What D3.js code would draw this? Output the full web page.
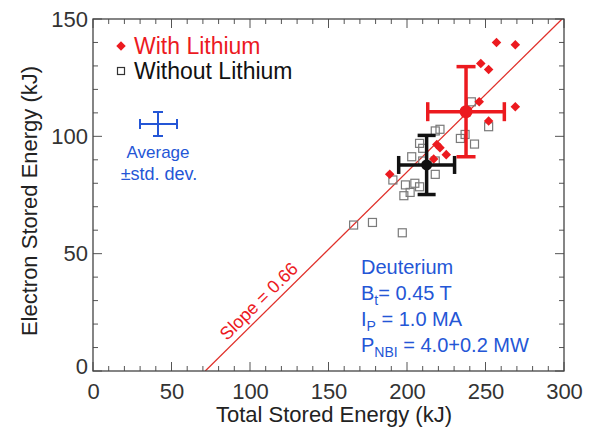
<!DOCTYPE html>
<html>
<head>
<meta charset="utf-8">
<script src="https://cdn.jsdelivr.net/npm/d3@7"></script>
<style>
  body { margin: 0; background: #fff; }
  svg { display: block; font-family: "Liberation Sans", Arial, Helvetica, sans-serif; }
</style>
</head>
<body>
<svg id="chart" width="592" height="428"></svg>
<script>
// Shots with lithium wall conditioning: [total, electron] stored energy (kJ)
const withLiTotal = [257, 269, 247, 252, 246, 269, 252, 219, 221, 225, 217, 189];
const withLiElectron = [140, 139, 131, 128.5, 114.7, 112.6, 106.5, 96.5, 95.1, 92.2, 90.3, 83.8];

// Shots without lithium
const noLiTotal = [221, 218, 241, 252, 234, 237, 243, 208, 210, 203, 210, 218, 218,
                   191, 199, 205, 208, 202, 198, 166, 178, 197];
const noLiElectron = [103, 102.3, 114.7, 104.1, 99.1, 100.8, 96.7, 97, 94.9, 91.3, 89.5, 89.5, 83.8,
                      81.4, 79.3, 80, 78.5, 76.1, 74.7, 62.2, 63.3, 58.9];

// Group averages with standard deviations
const groupNames = ["withLi", "noLi"];
const meanTotal = [237.6, 212.5];
const meanElectron = [110.5, 87.8];
const sdTotal = [24.4, 17.8];
const sdElectron = [19.2, 12.6];

// Linear fit line: electron = slope * (total - offset)
const fitSlope = 0.66;
const fitOffset = 71.5;

const xTicks = [0, 50, 100, 150, 200, 250, 300];
const yTicks = [0, 50, 100, 150];

const RED = "#ec1a1f";
const BLUE = "#2456d6";
const GRAY = "#7a7a7a";

const svg = d3.select("#chart");
const margin = { left: 93, right: 28, top: 19, bottom: 57 };
const W = 592, H = 428;
const x = d3.scaleLinear().domain([0, 300]).range([margin.left, W - margin.right]);
const y = d3.scaleLinear().domain([0, 150]).range([H - margin.bottom, margin.top]);

const plot = svg.append("g");
plot.append("clipPath").attr("id", "clip")
  .append("rect").attr("x", x(0)).attr("y", y(150))
  .attr("width", x(300) - x(0)).attr("height", y(0) - y(150));

// Frame with inward ticks on all four sides
const minor = d3.range(0, 301, 10);
const minorY = d3.range(0, 151, 10);
function tickAxes() {
  const g = svg.append("g").attr("stroke", "#555").attr("stroke-width", 1);
  minor.forEach(v => {
    const len = v % 50 === 0 ? 9 : 5;
    g.append("line").attr("x1", x(v)).attr("x2", x(v)).attr("y1", y(0)).attr("y2", y(0) - len);
    g.append("line").attr("x1", x(v)).attr("x2", x(v)).attr("y1", y(150)).attr("y2", y(150) + len);
  });
  minorY.forEach(v => {
    const len = v % 50 === 0 ? 9 : 5;
    g.append("line").attr("x1", x(0)).attr("x2", x(0) + len).attr("y1", y(v)).attr("y2", y(v));
    g.append("line").attr("x1", x(300)).attr("x2", x(300) - len).attr("y1", y(v)).attr("y2", y(v));
  });
  g.append("rect").attr("x", x(0)).attr("y", y(150))
    .attr("width", x(300) - x(0)).attr("height", y(0) - y(150))
    .attr("fill", "none").attr("stroke", "#444").attr("stroke-width", 1.3);
}

// Tick labels through d3 axes (tick lines hidden, frame drawn separately)
const xAxis = svg.append("g").attr("transform", `translate(0,${y(0)})`)
  .call(d3.axisBottom(x).tickValues(xTicks).tickSize(0).tickPadding(9));
const yAxis = svg.append("g").attr("transform", `translate(${x(0)},0)`)
  .call(d3.axisLeft(y).tickValues(yTicks).tickSize(0).tickPadding(5));
[xAxis, yAxis].forEach(a => {
  a.select(".domain").remove();
  a.selectAll("text").attr("font-size", 22).attr("fill", "#333")
    .attr("font-family", "Liberation Sans, Arial, sans-serif");
});
xAxis.selectAll("text").attr("dy", "0.85em");
yAxis.selectAll("text").filter(d => d === 0).attr("dy", "0.1em");

// Fit line
plot.append("line")
  .attr("clip-path", "url(#clip)")
  .attr("x1", x(fitOffset)).attr("y1", y(0))
  .attr("x2", x(fitOffset + 150 / fitSlope)).attr("y2", y(150))
  .attr("stroke", "#e0302a").attr("stroke-width", 1.3);

// Slope label rotated along the fit line
const angle = Math.atan2(y(fitSlope * 60) - y(0), x(60) - x(0)) * 180 / Math.PI;
const lx = 111, ly = fitSlope * (lx - fitOffset);
svg.append("text")
  .attr("transform", `translate(${x(lx)},${y(ly)}) rotate(${angle})`)
  .attr("text-anchor", "middle").attr("dy", -6)
  .attr("font-size", 18).attr("fill", RED)
  .text("Slope = 0.66");

// Open squares: without lithium
const sq = 8;
plot.append("g").selectAll("rect").data(d3.zip(noLiTotal, noLiElectron)).join("rect")
  .attr("x", d => x(d[0]) - sq / 2).attr("y", d => y(d[1]) - sq / 2)
  .attr("width", sq).attr("height", sq)
  .attr("fill", "none").attr("stroke", GRAY).attr("stroke-width", 1.2);

// Filled diamonds: with lithium
const diamond = d3.symbol().type(d3.symbolDiamond2).size(58);
plot.append("g").selectAll("path").data(d3.zip(withLiTotal, withLiElectron)).join("path")
  .attr("d", diamond)
  .attr("transform", d => `translate(${x(d[0])},${y(d[1])})`)
  .attr("fill", RED);

// Average ± standard deviation crosses
function errorCross(cx, cy, sx, sy, color, width, cap, r) {
  const g = svg.append("g").attr("stroke", color).attr("stroke-width", width).attr("fill", color);
  g.append("line").attr("x1", x(cx - sx)).attr("x2", x(cx + sx)).attr("y1", y(cy)).attr("y2", y(cy));
  g.append("line").attr("x1", x(cx)).attr("x2", x(cx)).attr("y1", y(cy - sy)).attr("y2", y(cy + sy));
  [cx - sx, cx + sx].forEach(v => g.append("line")
    .attr("x1", x(v)).attr("x2", x(v)).attr("y1", y(cy) - cap).attr("y2", y(cy) + cap));
  [cy - sy, cy + sy].forEach(v => g.append("line")
    .attr("x1", x(cx) - cap).attr("x2", x(cx) + cap).attr("y1", y(v)).attr("y2", y(v)));
  if (r > 0) g.append("circle").attr("cx", x(cx)).attr("cy", y(cy)).attr("r", r).attr("stroke", "none");
}
errorCross(meanTotal[1], meanElectron[1], sdTotal[1], sdElectron[1], "#111", 3.5, 9, 5.5);
errorCross(meanTotal[0], meanElectron[0], sdTotal[0], sdElectron[0], RED, 3.5, 9.5, 6.5);

tickAxes();

// Legend
svg.append("path").attr("d", diamond).attr("transform", "translate(121,46)").attr("fill", RED);
svg.append("rect").attr("x", 117.5).attr("y", 67.5).attr("width", 7).attr("height", 7)
  .attr("fill", "none").attr("stroke", "#333").attr("stroke-width", 1.2);
svg.append("text").attr("x", 134).attr("y", 54).attr("font-size", 23).attr("fill", RED).text("With Lithium");
svg.append("text").attr("x", 134).attr("y", 79).attr("font-size", 23).attr("fill", "#111").text("Without Lithium");

// Error-bar key
const kg = svg.append("g").attr("stroke", BLUE).attr("stroke-width", 2);
kg.append("line").attr("x1", 140).attr("x2", 177).attr("y1", 124).attr("y2", 124);
kg.append("line").attr("x1", 158).attr("x2", 158).attr("y1", 112).attr("y2", 136);
kg.append("line").attr("x1", 140).attr("x2", 140).attr("y1", 119).attr("y2", 129);
kg.append("line").attr("x1", 177).attr("x2", 177).attr("y1", 119).attr("y2", 129);
kg.append("line").attr("x1", 153).attr("x2", 163).attr("y1", 112).attr("y2", 112);
kg.append("line").attr("x1", 153).attr("x2", 163).attr("y1", 136).attr("y2", 136);
svg.append("text").attr("x", 158).attr("y", 158).attr("text-anchor", "middle")
  .attr("font-size", 17).attr("fill", BLUE).text("Average");
svg.append("text").attr("x", 159).attr("y", 180).attr("text-anchor", "middle")
  .attr("font-size", 18).attr("fill", BLUE).text("±std. dev.");

// Discharge parameters
const info = svg.append("g").attr("font-size", 20).attr("fill", BLUE);
info.append("text").attr("x", 361).attr("y", 274).text("Deuterium");
const t2 = info.append("text").attr("x", 361).attr("y", 300);
t2.append("tspan").text("B");
t2.append("tspan").attr("font-size", 14).attr("dy", 5).text("t");
t2.append("tspan").attr("dy", -5).text("= 0.45 T");
const t3 = info.append("text").attr("x", 361).attr("y", 326);
t3.append("tspan").text("I");
t3.append("tspan").attr("font-size", 14).attr("dy", 5).text("P");
t3.append("tspan").attr("dy", -5).text(" = 1.0 MA");
const t4 = info.append("text").attr("x", 361).attr("y", 352);
t4.append("tspan").text("P");
t4.append("tspan").attr("font-size", 14).attr("dy", 5).text("NBI");
t4.append("tspan").attr("dy", -5).text(" = 4.0+0.2 MW");

// Axis titles
svg.append("text").attr("x", 334).attr("y", 422).attr("text-anchor", "middle")
  .attr("font-size", 22).attr("fill", "#222").text("Total Stored Energy (kJ)");
svg.append("text").attr("transform", `translate(37,${(y(0) + y(150)) / 2 + 6}) rotate(-90)`)
  .attr("text-anchor", "middle").attr("font-size", 22).attr("fill", "#222")
  .text("Electron Stored Energy (kJ)");
</script>
</body>
</html>
